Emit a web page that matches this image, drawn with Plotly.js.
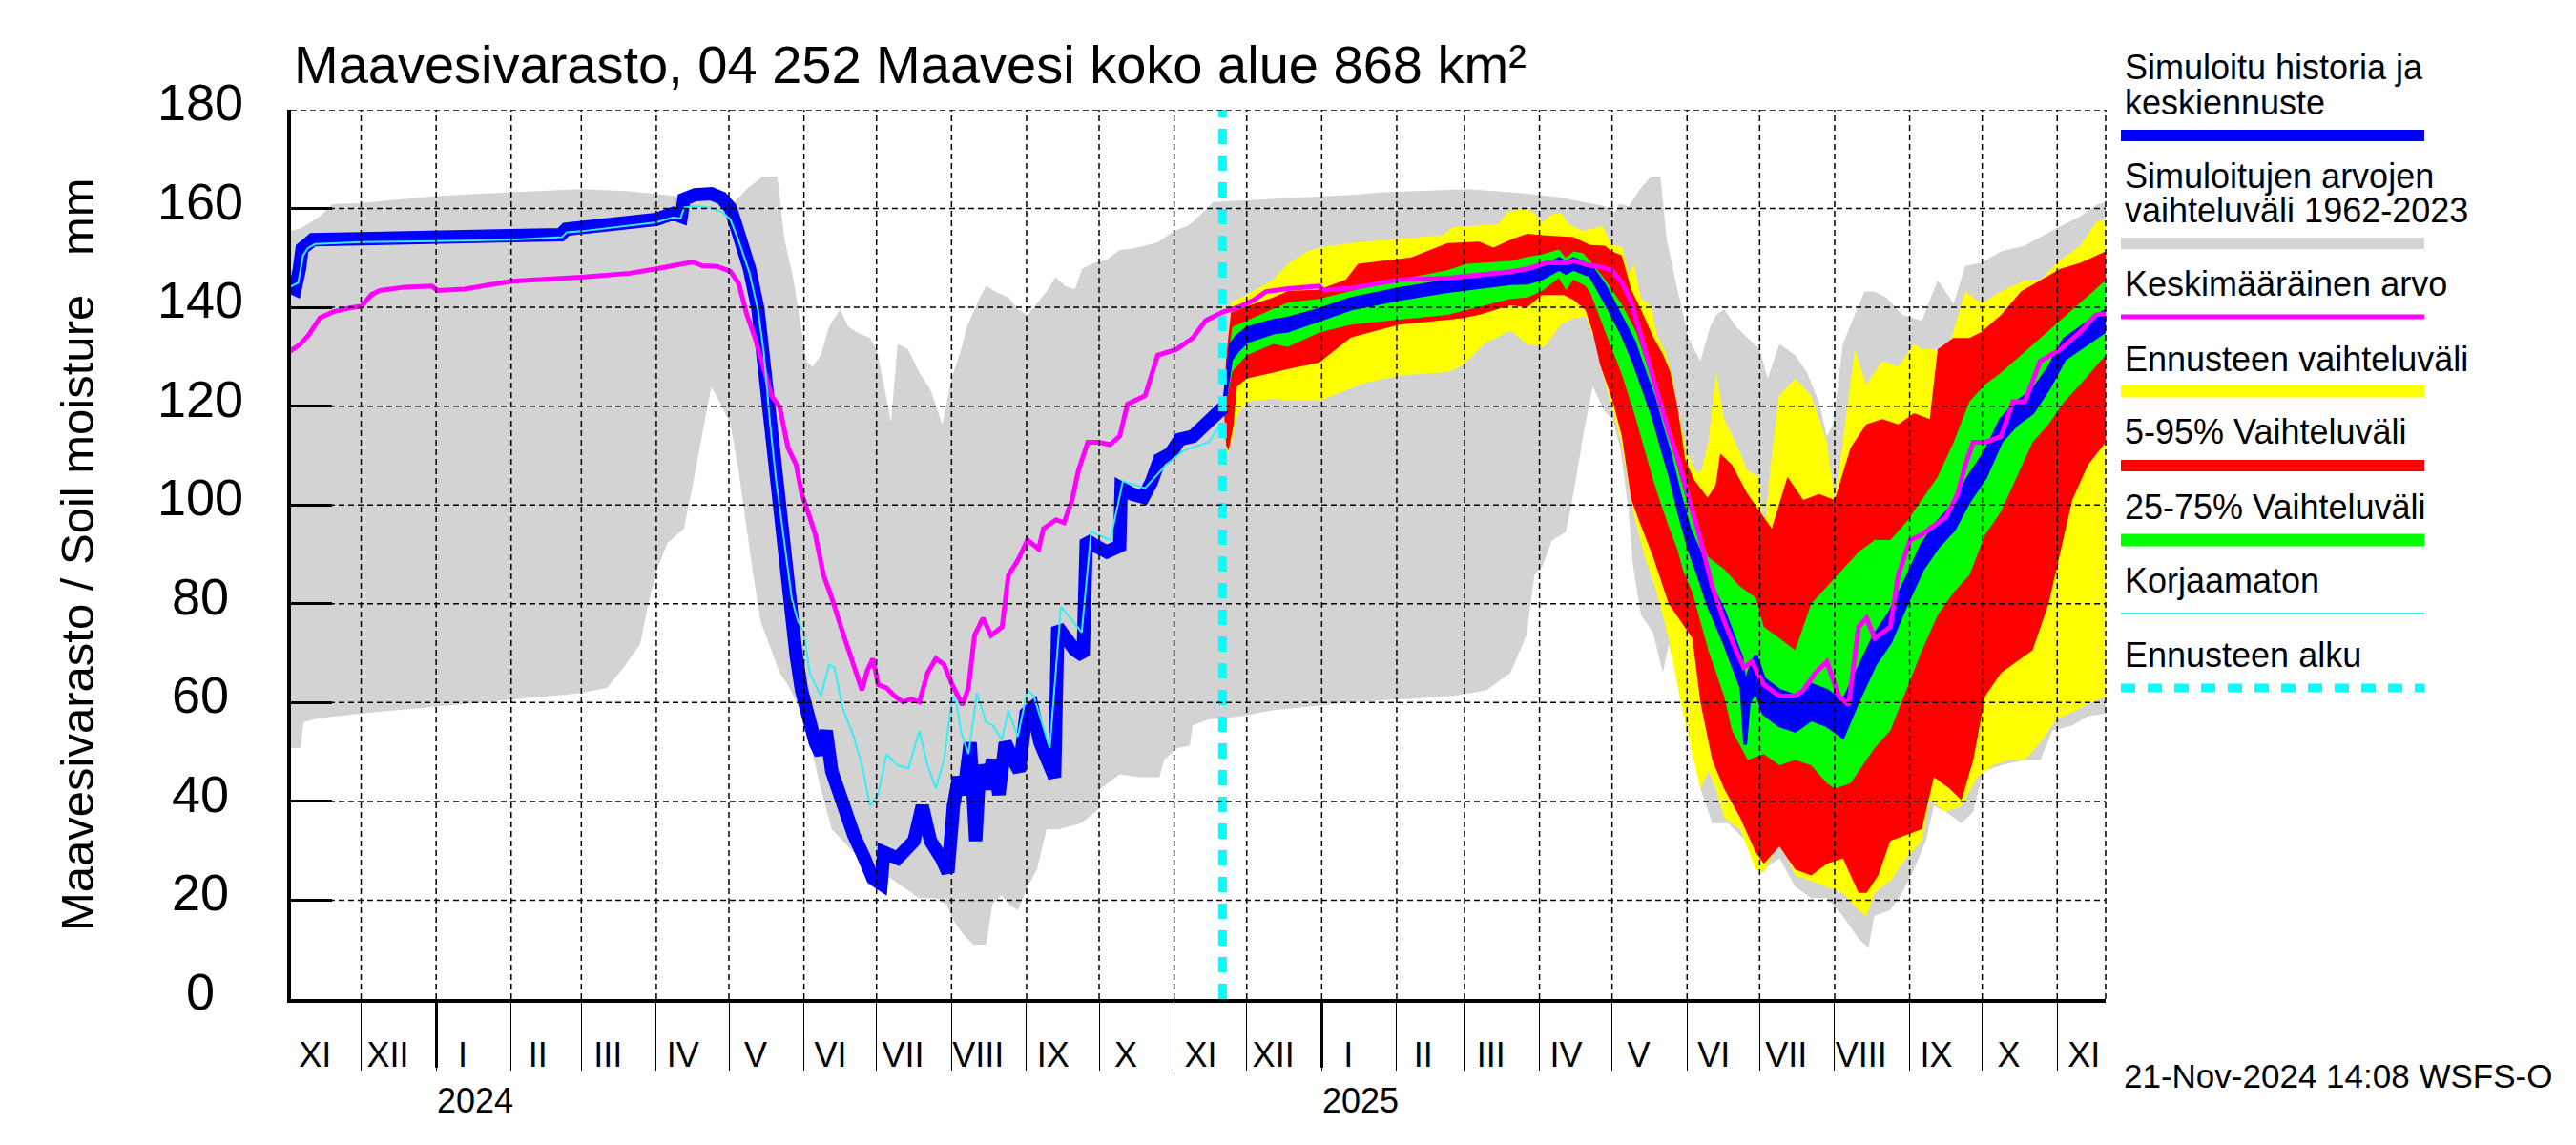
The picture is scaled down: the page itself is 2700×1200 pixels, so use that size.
<!DOCTYPE html>
<html><head><meta charset="utf-8">
<script src="https://cdn.plot.ly/plotly-3.0.1.min.js"></script>
<style>html,body{margin:0;padding:0;background:#fff}#chart{width:2700px;height:1200px}</style>
</head><body><div id="chart"></div>
<script>
// ---------------- DATA (x = days after 2024-01-01, y = mm) ----------------
const greyUpper = [[-61,155.4],[-56,156],[-48,158.4],[-43,160.9],[-31,161.1],[0,162.5],[31,163.3],[60,163.9],[80,163.5],[91,163],[100,162.5],[110,162],[122,160.7],[129,164.2],[135,166.5],[141,166.5],[144,153.7],[147.7,145.5],[150,138.5],[153,129.1],[155.6,128],[159,130.3],[162.4,136.1],[167,139.6],[170.3,136.1],[173.7,135],[179.3,133.8],[182,131.5],[185,124.4],[188,116.8],[190.7,132.6],[195,131.5],[199.7,126.8],[204.3,123.3],[209.2,116.3],[213,125.6],[217,131.5],[219.4,136.1],[224.7,142],[227.3,144.3],[231,143.2],[236.5,142],[240.4,139.6],[244.4,138.5],[248.3,140.8],[252.3,143.2],[256,146.1],[260,144.3],[264,143.7],[267,147.8],[272,149],[277,149.6],[282.5,151.6],[288,151.9],[298,153.1],[305,155.4],[311,156.6],[315,158.4],[319,160.1],[321,161.3],[346,161.9],[365,162.4],[380,162.8],[391,163.3],[418,163.8],[426,163.9],[444,163.3],[451,163],[464,162.3],[483,160.5],[487,159.1],[489,161],[493,160.4],[497,163.6],[502,166.5],[506,166.5],[508.6,153.7],[512.7,144.3],[517.6,133.8],[522.5,129.1],[526.6,136.1],[529,138.5],[532.3,139.6],[537.2,136.1],[542,133.8],[547,131.5],[550.3,125.6],[555.2,132.6],[561.7,130.3],[566.6,126.8],[571.5,120.9],[574.8,113.9],[577.3,116.3],[581.4,132.6],[586.3,138.5],[590.3,143.2],[594.4,143.2],[599.3,142],[606,138.5],[614,137.3],[620.6,145.5],[627.2,140.8],[632,148.4],[638.6,149],[646.8,151.3],[656.6,152.5],[669.7,156],[679.5,158.4],[686,160.7],[690,161.3]];
const greyLower = [[-61,50.8],[-56,50.8],[-54.8,56],[-49.3,56.8],[-31,57.8],[0,59.2],[31,60.7],[60,61.9],[70.7,63],[77.5,67.1],[84.3,71.8],[87.7,80],[91.3,87],[95.6,92.3],[102.4,95.2],[105.8,103.4],[110.3,115.1],[113.7,123.9],[117.1,120.9],[121.6,116.3],[125,106.9],[127.3,98.7],[130.7,87],[134.1,76.5],[138.6,70.6],[142,66],[145.4,63.6],[149.9,58.9],[154.4,51.9],[159,42.6],[163.5,34.4],[168,32],[172.6,29.7],[179.3,26.2],[186.1,25],[192.9,22.7],[199.7,20.4],[206.5,20.4],[211,19],[214.1,15.7],[218,13],[222,11],[227.3,11],[229.9,19.2],[233.7,21],[237,19],[240.4,18],[244.4,22.7],[248.3,26.2],[252.3,34.4],[257.5,34.4],[266.7,35.6],[273.9,38.5],[274.6,42.6],[282.5,45.5],[290.4,44.9],[298.9,44.9],[300.9,48.4],[306.2,50.8],[311.4,51.3],[312.7,55.4],[319.3,56.6],[332.4,57.2],[345.6,58.4],[379.8,60.1],[400,60.7],[420,61.3],[434,62.5],[444,66],[450.6,73.6],[453.9,85.8],[457.2,87.6],[461.1,92.8],[466.9,94.5],[470.3,103],[474.5,115.2],[478,124],[480.5,121.5],[482.5,119.2],[486.3,117.3],[489.6,111],[492.7,99.2],[494.7,87.5],[498,77.7],[502.9,74.2],[507,66],[509.4,71.8],[512.7,66],[517.6,54.3],[522.5,42.6],[527.4,35.6],[533.9,35.6],[538.8,33.2],[543.7,30.9],[548.6,26.2],[555.2,28.5],[561.7,22.7],[568.3,20.4],[574.8,20.4],[581.4,16.8],[587.9,12.2],[592,10.4],[594.4,16.8],[601,18],[605.9,21.5],[610.8,26.2],[615.7,32],[619,39.1],[623.9,37.9],[630.4,35.6],[635.3,37.9],[639.4,46.1],[646.8,47.3],[656.6,48.4],[663.1,48.4],[668,54.3],[676.2,55.4],[682.7,57.2],[690.1,57.8]];
const yellowUpper = [[325.5,119.8],[326.5,125],[328.5,141],[335,142.6],[345.6,145.5],[352,148.8],[360,151.3],[365,152.1],[378,153],[398,153.9],[416,154.6],[420,156.2],[439,156.8],[443,159.4],[450.6,160],[454.5,158.8],[457,157.1],[461,158.8],[465,159.1],[468,156.8],[474,155.5],[478,155.9],[482,156.5],[486,152.6],[490,152.3],[493,146.8],[495,148.8],[498,141.7],[502,140.4],[504.5,134.5],[508,131],[511,126],[513,120],[516.5,111.5],[519,108.5],[521,106.5],[523,107],[525.8,112.7],[527,118],[529,126.8],[532.3,117.4],[537,112.7],[542,106.9],[547,105.7],[548.7,94],[552,110],[555,122.1],[561.7,125.6],[568.3,122.1],[574.8,112.7],[578,101],[581.4,112.7],[586.3,131.5],[591,124.4],[597.7,129.1],[604.3,128],[610.8,132.6],[614,131.5],[619,131.5],[624,130.3],[627,135],[632,143.2],[638.6,140.8],[646.8,143.2],[656.6,145.5],[663,145.5],[669.7,149],[679.5,152.5],[686,157.2],[690,157.8]];
const yellowLower = [[325.5,119.8],[327,110.5],[329,113],[331,118],[335,120.9],[346,121.5],[352,121.1],[365,121.1],[383.5,124.6],[398,126.2],[418,126.9],[424,128.2],[433.5,132.7],[444,135.3],[451,132.5],[458,132],[465,136.5],[470,137.8],[475,138.2],[478,134.5],[480,132.6],[482,127],[485,121.5],[489.8,112.7],[494.7,98.7],[499.6,89.4],[504.5,82.3],[509.4,73],[514.3,60.1],[519.2,49.6],[522.5,42.6],[525.8,46.1],[529,42.6],[532.3,36.7],[538.9,34.4],[545.4,26.2],[548.7,25.6],[555.2,32],[561.7,25],[568.3,23.9],[574.8,22.7],[581.4,21.5],[587.9,18],[591.2,16.8],[594.5,21.5],[601,23.9],[607.5,28.5],[614.1,32],[617.3,40.2],[623.9,37.9],[630.4,39.1],[637,44.9],[643.5,47.3],[650,48.4],[656.6,48.4],[663,51.9],[669.7,56.6],[679.5,58.9],[690,61.3]];
const redUpper = [[325.5,119.8],[326.5,130],[328.5,139],[335,140.2],[346,142],[352,143.3],[365,143.6],[376,145.6],[381,148.8],[403,150.1],[418,153],[431,153.3],[437,152.1],[445,153.9],[451,154.9],[457,154.6],[467,154.3],[470,154.2],[477,152.6],[483,152.5],[486,151.3],[490,150.5],[494,143.5],[498,139.5],[503,134],[507,130.5],[510,127],[513,120],[516.3,109],[520,105],[525.5,101.5],[528.8,104],[530.7,110.4],[535.6,108.1],[542,102.2],[547,98.7],[552,95.2],[558.5,105.7],[565,101],[571.6,102.2],[578,101],[584.6,111.6],[591,116.3],[597.7,117.4],[604.3,116.3],[610.8,118.6],[617.3,117.4],[620.6,131.5],[627,133.8],[633.7,133.8],[638.6,135],[646.8,138.5],[655,143.2],[663,145.5],[671.3,147.8],[679.5,149],[690,151.3]];
const redLower = [[325.5,119.8],[326.5,112],[327.5,111],[329.5,116],[331,124],[335,125.6],[346,126.8],[352,127.5],[365,128.8],[378,133.9],[398,136.5],[424,137.8],[431,138.5],[444,140.4],[451,140],[457,142.5],[466,142.5],[470,141.5],[475,139.5],[478,135],[481,128.5],[486,121.5],[490,114],[494,101],[497,97],[503,89.4],[509.4,80],[516,75.3],[519.2,73],[522.5,60.1],[527.4,48.4],[532.3,42.6],[538.9,36.7],[545.4,29.7],[548.7,27.4],[555.2,30.9],[561.7,26.2],[568.3,25],[574.8,27.4],[581.4,28.5],[587.9,21.5],[591.2,21.5],[596,25],[601,32],[607.5,33.2],[614,34.4],[619,44.9],[625.5,42.6],[630.4,40.2],[635.3,48.4],[640.2,61.3],[646.8,66],[653.3,68.3],[659.8,70.6],[666.4,80],[669.7,87],[676.2,101],[682.7,108.1],[690,112.7]];
const greenUpper = [[325.5,119.8],[327,128],[329,136],[335,137.3],[346,139.6],[352,141],[365,141.7],[378,143.3],[398,145.6],[418,147.5],[426,148.8],[444,149.4],[451,150.2],[457,150.7],[464,151.7],[467,150],[470,151.3],[474,151],[477,149.4],[483.3,145.5],[490,140.6],[496,135],[500,129],[503,124.5],[506,120],[509.5,114],[513,108],[516.5,101.5],[520,96.5],[523,93],[525.8,89.4],[532.3,87],[538.9,83.5],[545.4,81.2],[548.7,75.3],[555.2,73],[561.7,70.6],[568.3,80],[574.8,83.5],[581.4,87],[587.9,90.5],[594.5,92.9],[601,92.9],[607.5,96.4],[614.1,101],[620.6,105.7],[627.2,112.7],[633.7,120.9],[640.2,124.4],[646.8,126.8],[655,130.3],[663.1,133.8],[671.3,137.3],[679.5,140.8],[690,145.5]];
const greenLower = [[325.5,119.8],[327,122],[329,127],[335,130.3],[346,132.6],[352,132],[365,134.9],[378,136.5],[398,137.5],[418,138.5],[444,141.7],[451,142],[457,143.3],[464,145.9],[467,143.5],[470,145.6],[475,144.3],[477,143],[483,135.3],[490,126.5],[495.5,118],[500,110],[503,105],[506,100.5],[509.5,95.5],[513,91],[515.5,86.5],[519.2,82.3],[525.8,70.6],[532.3,61.3],[535.6,54.3],[542.1,48.4],[548.7,49.6],[555.2,47.3],[561.7,48.4],[568.3,47.3],[574.8,43.7],[578.1,42.6],[584.6,43.7],[589.6,47.3],[594.5,50.8],[601,54.3],[607.5,62.5],[614.1,70.6],[620.6,77.7],[627.2,82.3],[633.7,85.8],[640.2,94],[646.8,98.7],[653.3,105.7],[659.8,112.7],[666.4,116.3],[672.9,120.9],[679.5,124.4],[686,128],[690,130.3]];
const blueForecastUpper = [[325.5,119.8],[327,127],[328.5,132.5],[331,134.1],[335,135.7],[346,137.3],[352,137.7],[365,139.5],[378,141.7],[398,143.7],[418,145.3],[444,146.9],[451,147],[457,147.9],[464,149.8],[467,149],[470,149.8],[475,148.8],[477,148.5],[483,144.3],[490,137.8],[495,133],[500,126],[503,122],[507,115],[510,110],[514,102],[518,95],[522,90.5],[525.8,84.8],[532.3,78.3],[539.5,69],[541,63],[542.5,66],[545.4,69.5],[548.7,64.8],[555.2,62.4],[561.7,61.3],[568.3,63.6],[574.8,62.4],[581.4,60.1],[587.9,66.6],[594.5,73.6],[601,78.3],[607.5,84.8],[614.1,91.9],[620.6,96.5],[627.2,100],[633.7,105.9],[640.2,110.6],[646.8,117.3],[653.3,120.8],[659.8,123.1],[666.4,127.6],[672.9,133.5],[679.5,135.8],[686,138.1],[690,139.3]];
const blueForecastLower = [[325.5,119.8],[327,125],[328.5,129.5],[331,131.1],[335,133.1],[346,134.9],[352,135.3],[365,137.5],[378,139.7],[398,141.7],[418,143.3],[444,144.9],[451,145],[457,145.9],[464,147.8],[467,147],[470,147.8],[475,146.8],[477,146.5],[483,141.3],[490,134.8],[495,129],[500,122],[503,118],[507,111],[510,106],[514,98],[518,91],[522,85.5],[525.8,79.8],[532.3,72.3],[539.5,63],[541,51.5],[542.5,60],[545.4,62.5],[548.7,57.8],[555.2,55.4],[561.7,54.3],[568.3,56.6],[574.8,55.4],[581.4,53.1],[587.9,60.6],[594.5,67.6],[601,72.3],[607.5,79.8],[614.1,86.9],[620.6,91.5],[627.2,95],[633.7,100.9],[640.2,105.6],[646.8,112.9],[653.3,116.4],[659.8,118.7],[666.4,123.6],[672.9,129.5],[679.5,131.8],[686,134.1],[690,135.3]];
const blueHistory = [[-61,144.3],[-58.3,143.7],[-56.5,147.8],[-55.4,151.9],[-53.3,152.7],[-51,153.7],[-31,153.9],[0,154],[31,154.3],[51.5,154.7],[53.7,155.8],[60,156],[75,156.5],[80,157.2],[91,157.8],[98,159],[101.3,158.4],[102.4,161.9],[107,162.8],[113.7,163],[118,162.1],[121.6,160.1],[125,154.9],[129.5,147.8],[133,139.6],[135,130.3],[137.5,116.3],[139.7,105.7],[142,97.5],[144.3,87],[146.5,77.7],[148.8,69.5],[151,62.5],[153.3,57.8],[156.7,51.9],[159,49.6],[161.2,54.3],[163.5,46.1],[168,39.1],[172.6,33.2],[177,28.5],[180.5,24.4],[183.9,23.3],[185,29.7],[190.7,28.5],[195,30.3],[197.5,32],[200.9,39.1],[204.3,32],[208.8,28.5],[211.5,25.6],[213.8,39.1],[216,44.9],[218,41.4],[220.7,51.9],[223,32],[224.7,47.3],[227.3,42.6],[230,48.4],[232.6,41.4],[235.2,51.9],[238.5,48.4],[241,46.1],[243.8,57.8],[246.4,58.9],[249.6,51.9],[253.6,46.1],[255.6,44.9],[256.9,75.3],[260.2,73],[264,70.6],[267.4,69.5],[268.7,92.9],[272.6,91.7],[277.2,90.5],[282.5,91.7],[283.1,103.4],[287.7,102.2],[292.3,101.6],[295.6,104.6],[299,109.2],[303.5,110.4],[307.4,113.3],[312.7,113.9],[318,116.3],[322,118],[325.5,119.8]];
const meanValue = [[-61,130.9],[-56,132.6],[-52.7,134.4],[-48,137.9],[-42.5,139.1],[-35.7,139.9],[-31,140.2],[-26.6,142.6],[-23.2,143.4],[-13,144.1],[-1.7,144.3],[0.5,143.4],[11.8,143.7],[31,145.3],[60,146.1],[80,146.9],[91,147.8],[98,148.4],[106,149.2],[110,148.4],[116,148.3],[121.6,147.3],[125,144.9],[128.4,138.5],[131.8,133.8],[135.2,128],[138.6,122.1],[142,119.8],[145.4,111.6],[148.8,108.1],[151.1,102.2],[154.4,97.5],[156.7,94],[160.1,85.8],[163.5,81.2],[168,74.2],[172.6,67.7],[176,62.5],[178.2,66.5],[180.5,68.9],[182.7,63.6],[186.1,63],[189.5,61.3],[192.9,60.1],[196.3,60.7],[199.7,60.1],[203.1,66],[206.5,68.9],[209.9,67.7],[213.3,63.6],[217.5,59.5],[220,63],[222.5,73.6],[226,77.1],[229.3,73.6],[233.9,75.3],[236.5,85.8],[240.4,88.8],[244.4,92.9],[249,91.1],[251,95.2],[256.2,97],[259.5,96.4],[262.8,101],[265.4,106.9],[269.3,112.7],[273.9,112.7],[278.5,112.2],[282.5,113.9],[285.7,120.4],[293,122.1],[298.2,130.3],[306,131.5],[312.7,133.8],[318,137.3],[325.3,139.1],[332.4,140.2],[337.7,141.4],[343,143.2],[352,143.8],[365,144.3],[366.5,143.5],[378,143.9],[398,145.6],[418,145.9],[444,147.2],[451,147.8],[458.8,149],[467,149],[470.3,149.4],[475.6,148.6],[481,148.2],[486,147.5],[490,145],[494,141],[498,134],[502,127],[506,120.5],[510,114],[513.5,108.9],[517.6,101.5],[522,94],[527.4,83.5],[532.3,76.5],[537.2,70.6],[540.5,67.1],[543.8,68.3],[548.7,63.6],[555.2,61.3],[561.7,61.3],[565,62.5],[570,66],[574.8,68.3],[579.7,61.3],[583.8,59.5],[587.9,75.3],[591.2,77.1],[594.5,73],[601,75.3],[604.3,85.8],[609.2,92.9],[614.1,94],[617.3,95.2],[624,97.5],[628.8,102.2],[632,108.1],[635.3,112.7],[640.2,112.7],[646.8,113.9],[651.7,120.9],[656.6,120.9],[663,129.1],[671.3,131.5],[679.5,135],[686,138.5],[690,138.7]];
const uncorrected = [[-61,144],[-57,145],[-55,150.5],[-53,152],[-50,152.8],[-31,153.2],[0,153.4],[31,153.7],[52,154.2],[54,155.2],[60,155.4],[80,156.6],[91,157.2],[98,158.2],[101,158],[102.5,160.2],[107,160.5],[113.7,160.2],[118,159.3],[121.6,157.8],[125,153.5],[129.5,147],[133,139.5],[135.5,130.5],[138,116.5],[140.5,105],[143,96],[145,88],[147,81],[149.5,76.5],[152,74.2],[154.4,66],[159,61.3],[162.4,67.7],[164.6,67.1],[168,58.9],[172.6,53.1],[176,47.3],[179.3,39.1],[182.7,41.4],[186.1,49.6],[190.7,47.3],[195.2,46.7],[199.7,54.3],[203.1,47.3],[206.5,42.6],[209.9,48.4],[213.3,61.3],[215,60],[217,54],[220,49.6],[223.5,61.9],[227.3,56],[230,55.4],[233.8,52.5],[236.5,58.4],[240.4,53.1],[244.4,62.5],[247,61.3],[253.6,50.8],[258.2,79.4],[262.2,77.1],[266.8,74.2],[270.7,94.6],[278.6,92.9],[283.8,104.8],[293,103.4],[301.6,108.1],[308.8,111],[319.3,112.7],[323.3,115.7],[325.5,116.3]];
const forecastStart = '2024-11-21';
const xRange = ['2023-11-02', '2025-11-21'];
const yRange = [0, 180];
const yTicks = [0, 20, 40, 60, 80, 100, 120, 140, 160, 180];
const monthStarts = ['2023-12-01','2024-01-01','2024-02-01','2024-03-01','2024-04-01','2024-05-01','2024-06-01','2024-07-01','2024-08-01','2024-09-01','2024-10-01','2024-11-01','2024-12-01','2025-01-01','2025-02-01','2025-03-01','2025-04-01','2025-05-01','2025-06-01','2025-07-01','2025-08-01','2025-09-01','2025-10-01','2025-11-01'];
const yearStarts = ['2024-01-01', '2025-01-01'];
const monthLabelDates = ['2023-11-12','2023-12-12','2024-01-12','2024-02-12','2024-03-12','2024-04-12','2024-05-12','2024-06-12','2024-07-12','2024-08-12','2024-09-12','2024-10-12','2024-11-12','2024-12-12','2025-01-12','2025-02-12','2025-03-12','2025-04-12','2025-05-12','2025-06-12','2025-07-12','2025-08-12','2025-09-12','2025-10-12','2025-11-12'];
const monthLabels = ['XI','XII','I','II','III','IV','V','VI','VII','VIII','IX','X','XI','XII','I','II','III','IV','V','VI','VII','VIII','IX','X','XI'];
const yearLabels = ['2024', '2025'];
const yearLabelDates = ['2024-01-17', '2025-01-17'];
const titleText = 'Maavesivarasto, 04 252 Maavesi koko alue 868 km²';
const yTitleText = 'Maavesivarasto / Soil moisture   mm';
const stampText = '21-Nov-2024 14:08 WSFS-O';
const legendEntries = [
  {lines: ['Simuloitu historia ja', 'keskiennuste'], color: '#0000ff'},
  {lines: ['Simuloitujen arvojen', 'vaihteluväli 1962-2023'], color: '#d3d3d3'},
  {lines: ['Keskimääräinen arvo'], color: '#ff00ff'},
  {lines: ['Ennusteen vaihteluväli'], color: '#ffff00'},
  {lines: ['5-95% Vaihteluväli'], color: '#ff0000'},
  {lines: ['25-75% Vaihteluväli'], color: '#00ff00'},
  {lines: ['Korjaamaton'], color: '#33eef5'},
  {lines: ['Ennusteen alku'], color: '#00ffff'}
];

// ---------------- helpers ----------------
const DAY0 = Date.UTC(2024, 0, 1);
const toDate = d => new Date(DAY0 + d * 86400000).toISOString().slice(0, 16).replace('T', ' ');
const xs = p => p.map(q => toDate(q[0]));
const ys = p => p.map(q => q[1]);
const FONT = '"Liberation Sans", Arial, Helvetica, sans-serif';
// pixel geometry of the plot area
const L = 305, R = 2207, T = 115, B = 1047;
const px = X => (X - L) / (R - L);
const py = Y => (B - Y) / (B - T);

function band(lo, hi, color, lw) {
  return [
    {x: xs(lo), y: ys(lo), mode: 'lines', line: {width: lw || 0, color: color}, hoverinfo: 'skip', showlegend: false},
    {x: xs(hi), y: ys(hi), mode: 'lines', fill: 'tonexty', fillcolor: color, line: {width: lw || 0, color: color}, hoverinfo: 'skip', showlegend: false}
  ];
}

const traces = [].concat(
  band(greyLower, greyUpper, '#d3d3d3'),
  band(yellowLower, yellowUpper, '#ffff00'),
  band(redLower, redUpper, '#ff0000'),
  band(greenLower, greenUpper, '#00ff00'),
  band(blueForecastLower, blueForecastUpper, '#0000ff', 4),
  [
    {x: xs(blueHistory), y: ys(blueHistory), mode: 'lines', line: {color: '#0000ff', width: 14}, hoverinfo: 'skip', showlegend: false},
    {x: xs(meanValue), y: ys(meanValue), mode: 'lines', line: {color: '#ff00ff', width: 5}, hoverinfo: 'skip', showlegend: false},
    {x: xs(uncorrected), y: ys(uncorrected), mode: 'lines', line: {color: '#33eef5', width: 2}, hoverinfo: 'skip', showlegend: false},
    {x: [forecastStart, forecastStart], y: yRange, xaxis: 'x2', mode: 'lines', line: {color: '#00ffff', width: 9, dash: '16px,12px'}, hoverinfo: 'skip', showlegend: false}
  ]
);

// ---------------- shapes & annotations ----------------
const gridLine = {color: '#000', width: 1.5, dash: '6px,4px'};
const shapes = [];
monthStarts.forEach(m => shapes.push({type: 'line', layer: 'above', xref: 'x', yref: 'paper', x0: m, x1: m, y0: 0, y1: 1, line: gridLine}));
yTicks.filter(v => v > 0).forEach(v => shapes.push({type: 'line', layer: 'above', xref: 'paper', yref: 'y', x0: 0, x1: 1, y0: v, y1: v, line: gridLine}));
shapes.push({type: 'line', layer: 'above', xref: 'paper', yref: 'paper', x0: 1, x1: 1, y0: 0, y1: 1, line: gridLine});

const annotations = [];
yTicks.forEach(v => annotations.push({xref: 'paper', yref: 'y', x: px(210), y: v, yshift: 8, text: String(v), showarrow: false, xanchor: 'center', yanchor: 'middle', font: {family: FONT, size: 54, color: '#000'}}));
annotations.push({xref: 'paper', yref: 'paper', x: px(81), y: 0.5, text: yTitleText, textangle: -90, showarrow: false, xanchor: 'center', yanchor: 'middle', font: {family: FONT, size: 49, color: '#000'}});
yearLabels.forEach((t, i) => annotations.push({xref: 'x', yref: 'paper', x: yearLabelDates[i], y: py(1153), text: t, showarrow: false, xanchor: 'center', yanchor: 'middle', font: {family: FONT, size: 36, color: '#000'}}));
annotations.push({xref: 'paper', yref: 'paper', x: px(2224), y: py(1127), text: stampText, showarrow: false, xanchor: 'left', yanchor: 'middle', font: {family: FONT, size: 35, color: '#000'}});

// legend (drawn manually at the right)
const legTextY = [[71, 107], [185, 220], [297.5], [376], [452.5], [531], [608.5], [686]];
const legBar = [[142, 12], [255, 12], [332, 5], [410, 13], [488, 12], [566, 13], [643, 2], [721, 9]];
legendEntries.forEach((e, i) => {
  e.lines.forEach((ln, j) => annotations.push({xref: 'paper', yref: 'paper', x: px(2225), y: py(legTextY[i][j]), text: ln, showarrow: false, xanchor: 'left', yanchor: 'middle', font: {family: FONT, size: 36, color: '#000'}}));
  shapes.push({type: 'line', xref: 'paper', yref: 'paper', x0: px(2223), x1: px(2541), y0: py(legBar[i][0]), y1: py(legBar[i][0]),
    line: {color: e.color, width: legBar[i][1], dash: i === 7 ? '15px,13px' : 'solid'}});
});

const layout = {
  width: 2700, height: 1200,
  paper_bgcolor: '#fff', plot_bgcolor: 'rgba(0,0,0,0)',
  margin: {l: L, r: 2700 - R, t: T, b: 1200 - B, pad: 0, autoexpand: false},
  showlegend: false,
  title: {text: titleText, x: px(308), xref: 'paper', xanchor: 'left', y: 1 - 67 / 1200, yref: 'container', yanchor: 'middle',
    font: {family: FONT, size: 56, color: '#000'}},
  xaxis: {
    type: 'date', range: xRange, fixedrange: true,
    tickmode: 'array', tickvals: monthLabelDates, ticktext: monthLabels, ticks: '', ticklabelstandoff: 24,
    tickfont: {family: FONT, size: 36, color: '#000'},
    showgrid: false, zeroline: false,
    showline: true, linecolor: '#000', linewidth: 4, layer: 'above traces',
    minor: {tickmode: 'array', tickvals: monthStarts, ticks: 'outside', ticklen: 71, tickwidth: 1, tickcolor: '#000', showgrid: false}
  },
  xaxis2: {
    type: 'date', range: xRange, overlaying: 'x', anchor: 'y', side: 'bottom', fixedrange: true,
    tickmode: 'array', tickvals: yearStarts, ticks: 'outside', ticklen: 71, tickwidth: 3, tickcolor: '#000',
    showticklabels: false, showgrid: false, zeroline: false, showline: false
  },
  yaxis: {
    range: yRange, fixedrange: true, tickmode: 'array', tickvals: yTicks,
    ticks: 'inside', ticklen: 43, tickwidth: 3, tickcolor: '#000', showticklabels: false,
    showgrid: false, zeroline: false, showline: true, linecolor: '#000', linewidth: 4, layer: 'above traces'
  },
  shapes: shapes,
  annotations: annotations
};

Plotly.newPlot('chart', traces, layout, {displayModeBar: false, staticPlot: true});
</script>
</body></html>
